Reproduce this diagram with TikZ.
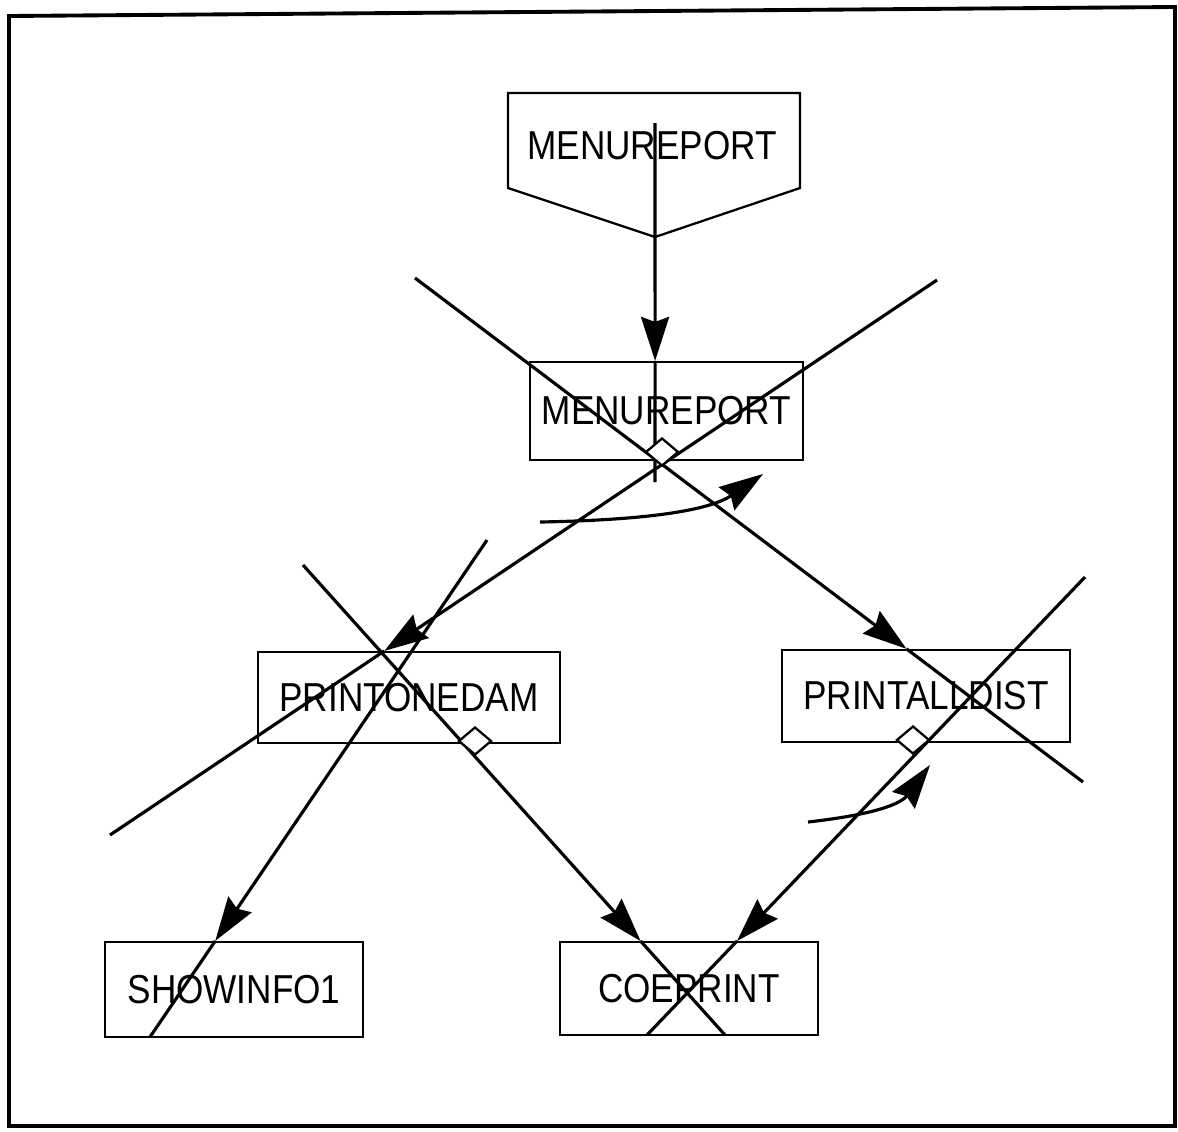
\documentclass[tikz,border=0pt]{standalone}
\usepackage{fontspec}
\setmainfont{Liberation Sans}
\usetikzlibrary{positioning}
\usetikzlibrary{arrows.meta,calc,shapes}
\tikzset{
    chart/.style={>={Stealth[length=4.4mm,width=2.8mm,inset=0.5mm]},
                     line width=0.9pt},
    module/.style={rectangle, draw, line width=0.65pt, inner sep=0pt,
                     font=\fontsize{10}{12}\selectfont},
    flag/.style={diamond, draw, fill=white, line width=0.65pt,
                     minimum width=0.33cm, minimum height=0.28cm, inner sep=0pt},
    }
\newcommand{\modtext}[1]{\scalebox{1}[1.15]{#1}}

\begin{document}
\begin{tikzpicture}[chart]
            \useasboundingbox (0,0) rectangle (11.78,-11.31);
            \draw[line width=1.1pt] (0.09,-0.16) -- (11.75,-0.07) -- (11.75,-11.26) -- (0.09,-11.26) -- cycle;

            \node[module, draw=none] (menu) at (6.52,-1.46) {\modtext{MENUREPORT}};
            \draw[line width=0.65pt] (5.08,-0.93) -- (8.00,-0.93) -- (8.00,-1.88) -- (6.55,-2.37) -- (5.08,-1.88) -- cycle;
            \node[module, minimum width=2.73cm, minimum height=0.98cm] (mrep) at (6.665,-4.11) {\modtext{MENUREPORT}};
            \node[module, minimum width=3.02cm, minimum height=0.91cm] (pone) at (4.09,-6.975) {\modtext{PRINTONEDAM}};
            \node[module, minimum width=2.88cm, minimum height=0.92cm] (pall) at (9.26,-6.96) {\modtext{PRINTALLDIST}};
            \node[module, minimum width=2.58cm, minimum height=0.95cm] (show) at (2.34,-9.895) {\modtext{SHOWINFO1}};
            \node[module, minimum width=2.58cm, minimum height=0.93cm] (coe) at (6.89,-9.885) {\modtext{COEPRINT}\hspace{0.15cm}};

            \coordinate (v1) at (6.55,-1.23);
            \coordinate (v2) at (6.55,-4.82);
            \coordinate (a1) at (4.15,-2.78);
            \coordinate (b1) at (10.83,-7.82);
            \coordinate (a2) at (9.37,-2.80);
            \coordinate (b2) at (1.10,-8.35);
            \coordinate (a3) at (3.03,-5.65);
            \coordinate (b3) at (7.25,-10.35);
            \coordinate (a4) at (4.87,-5.40);
            \coordinate (b4) at (1.50,-10.37);
            \coordinate (a5) at (10.85,-5.77);
            \coordinate (b5) at (6.47,-10.35);

            \coordinate (tv) at (intersection of v1--v2 and mrep.north west--mrep.north east);
            \coordinate (t1) at (intersection of a1--b1 and pall.north west--pall.north east);
            \coordinate (t2) at (intersection of a2--b2 and pone.north west--pone.north east);
            \coordinate (t3) at (intersection of a3--b3 and coe.north west--coe.north east);
            \coordinate (t4) at (intersection of a4--b4 and show.north west--show.north east);
            \coordinate (t5) at (intersection of a5--b5 and coe.north west--coe.north east);

            \draw[->] (v1) -- (tv);
            \draw (tv) -- (v2);
            \draw[->] (a1) -- (t1);
            \draw (t1) -- (b1);
            \draw[->] (a2) -- (t2);
            \draw (t2) -- (b2);
            \draw[->] (a3) -- (t3);
            \draw (t3) -- (b3);
            \draw[->] (a4) -- (t4);
            \draw (t4) -- (b4);
            \draw[->] (a5) -- (t5);
            \draw (t5) -- (b5);

            \node[flag] (d1) at (6.62,-4.52) {};
            \node[flag] (d2) at (4.75,-7.41) {};
            \node[flag] (d3) at (9.13,-7.40) {};

            \coordinate (c1) at (5.40,-5.22);
            \coordinate (e1) at (7.63,-4.74);
            \draw[->] (c1) .. controls (6.5,-5.2) and (7.1,-5.1) .. (e1);
            \coordinate (c2) at (8.08,-8.22);
            \coordinate (e2) at (9.30,-7.65);
            \draw[->] (c2) .. controls (8.7,-8.15) and (9.0,-8.05) .. (e2);
        \end{tikzpicture}
\end{document}
